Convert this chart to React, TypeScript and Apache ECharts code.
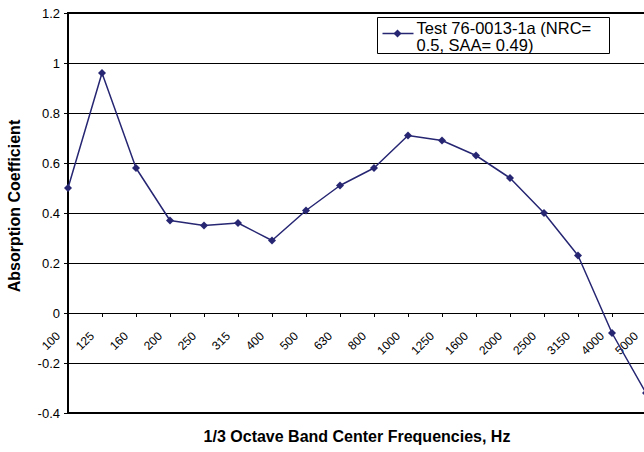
import React, { useEffect, useRef } from "react";
import * as echarts from "echarts";

const categories = ["100", "125", "160", "200", "250", "315", "400", "500", "630", "800", "1000", "1250", "1600", "2000", "2500", "3150", "4000", "5000"];
const absorption = [0.5, 0.96, 0.58, 0.37, 0.35, 0.36, 0.29, 0.41, 0.51, 0.58, 0.71, 0.69, 0.63, 0.54, 0.4, 0.23, -0.08, -0.32];
const seriesName = "Test 76-0013-1a (NRC=\n0.5, SAA= 0.49)";
const xTitle = "1/3 Octave Band Center Frequencies, Hz";
const yTitle = "Absorption Coefficient";

const FONT = "Arial, 'Liberation Sans', sans-serif";
const LINE = "#262673";

export default function App() {
  const ref = useRef<HTMLDivElement>(null);
  useEffect(() => {
    document.body.style.margin = "0";
    const chart = echarts.init(ref.current!, null, { renderer: "svg" });
    chart.setOption({
      animation: false,
      backgroundColor: "#fff",
      textStyle: { fontFamily: FONT },
      grid: {
        left: 68,
        right: -2,
        top: 13,
        bottom: 39,
        show: true,
        borderColor: "#000",
        borderWidth: 2,
        backgroundColor: "transparent",
        containLabel: false,
        outerBoundsMode: "none",
      },
      xAxis: {
        type: "category",
        data: categories,
        boundaryGap: false,
        position: "bottom",
        offset: -100,
        name: xTitle,
        nameLocation: "middle",
        nameGap: 115,
        nameTextStyle: { fontSize: 16, fontWeight: "bold", color: "#000", fontFamily: FONT },
        axisLine: { onZero: false, lineStyle: { color: "#000", width: 1 } },
        axisTick: { show: true, length: 4, lineStyle: { color: "#000" } },
        axisLabel: { rotate: 45, fontSize: 12, color: "#000", margin: 11, padding: [0, 14, 0, 0], fontFamily: FONT, interval: 0 },
        splitLine: { show: false },
      },
      yAxis: {
        type: "value",
        min: -0.4,
        max: 1.2,
        interval: 0.2,
        name: yTitle,
        nameLocation: "middle",
        nameGap: 46,
        nameRotate: 90,
        nameTextStyle: { fontSize: 16, fontWeight: "bold", color: "#000", fontFamily: FONT, padding: [0, 0, 0, 14] },
        axisLine: { show: true, lineStyle: { color: "#000", width: 2 } },
        axisTick: { show: true, length: 4, lineStyle: { color: "#000" } },
        axisLabel: {
          fontSize: 13,
          color: "#000",
          margin: 8,
          fontFamily: FONT,
          formatter: (v: number) => String(Math.round(v * 10) / 10),
        },
        splitLine: { show: true, lineStyle: { color: "#000", width: 1 } },
      },
      series: [
        {
          name: seriesName,
          type: "line",
          data: absorption,
          symbol: "diamond",
          symbolSize: 8,
          color: LINE,
          lineStyle: { color: LINE, width: 1.5 },
          itemStyle: { color: LINE },
          clip: true,
        },
      ],
      graphic: [
        {
          type: "group",
          left: 377,
          top: 17,
          children: [
            { type: "rect", shape: { x: 0, y: 0, width: 232, height: 36 }, style: { fill: "#fff", stroke: "#000", lineWidth: 1 } },
            { type: "line", shape: { x1: 5, y1: 16, x2: 36, y2: 16 }, style: { stroke: LINE, lineWidth: 1.5 } },
            { type: "polygon", shape: { points: [[20, 12], [24, 16], [20, 20], [16, 16]] }, style: { fill: LINE } },
            {
              type: "text",
              x: 39,
              y: 2,
              style: { text: seriesName, font: "16.5px " + FONT, fill: "#000", lineHeight: 17, verticalAlign: "top" },
            },
          ],
        },
      ],
    });
    return () => chart.dispose();
  }, []);
  return <div ref={ref} style={{ width: 644, height: 452 }} />;
}
